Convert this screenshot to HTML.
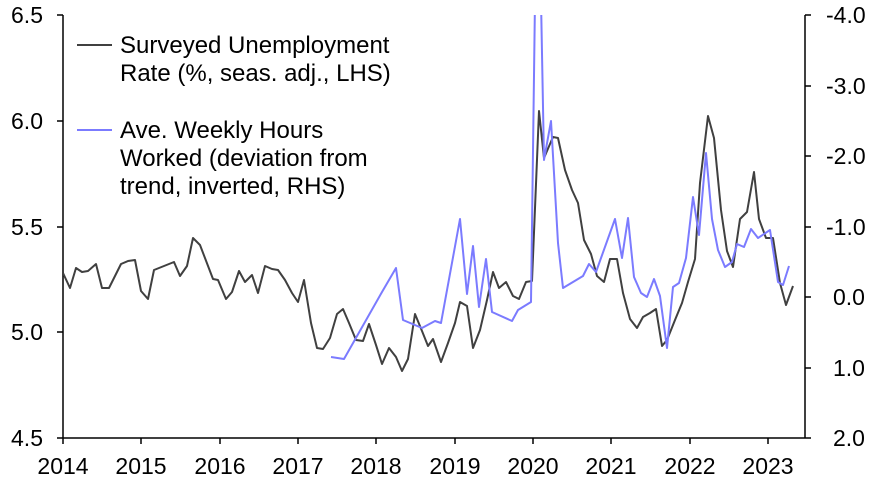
<!DOCTYPE html>
<html><head><meta charset="utf-8"><style>
body{margin:0;background:#fff;}
svg{display:block;font-family:"Liberation Sans",Arial,sans-serif;}
</style></head><body>
<svg width="874" height="482" viewBox="0 0 874 482">
<defs><clipPath id="c"><rect x="63" y="15" width="742" height="423"/></clipPath></defs>
<g stroke="#000" stroke-width="1.5" fill="none">
<line x1="63" y1="15" x2="63" y2="438"/>
<line x1="805" y1="15" x2="805" y2="438"/>
<line x1="63" y1="438" x2="805" y2="438"/>
<path d="M57 15H63M57 121H63M57 227H63M57 332H63M57 438H63"/>
<path d="M805 15H811M805 86H811M805 156H811M805 227H811M805 297H811M805 368H811M805 438H811"/>
<path d="M63 438V444M141 438V444M220 438V444M298 438V444M376 438V444M455 438V444M533 438V444M611 438V444M690 438V444M768 438V444"/>
</g>
<g font-size="23" fill="#000">
<text x="43" y="23" text-anchor="end">6.5</text>
<text x="43" y="129" text-anchor="end">6.0</text>
<text x="43" y="235" text-anchor="end">5.5</text>
<text x="43" y="340" text-anchor="end">5.0</text>
<text x="43" y="446" text-anchor="end">4.5</text>
<text x="826" y="23">-4.0</text>
<text x="826" y="94">-3.0</text>
<text x="826" y="164">-2.0</text>
<text x="826" y="235">-1.0</text>
<text x="833" y="305">0.0</text>
<text x="833" y="376">1.0</text>
<text x="833" y="446">2.0</text>
<g text-anchor="middle">
<text x="63" y="474">2014</text><text x="141" y="474">2015</text><text x="220" y="474">2016</text><text x="298" y="474">2017</text><text x="376" y="474">2018</text><text x="455" y="474">2019</text><text x="533" y="474">2020</text><text x="611" y="474">2021</text><text x="690" y="474">2022</text><text x="768" y="474">2023</text>
</g>
</g>
<g font-size="24" fill="#000">
<text x="120" y="53">Surveyed Unemployment</text>
<text x="120" y="81">Rate (%, seas. adj., LHS)</text>
<text x="120" y="138">Ave. Weekly Hours</text>
<text x="120" y="166">Worked (deviation from</text>
<text x="120" y="194">trend, inverted, RHS)</text>
</g>
<line x1="77" y1="45" x2="112" y2="45" stroke="#404040" stroke-width="2"/>
<line x1="77" y1="130" x2="112" y2="130" stroke="#7b7bff" stroke-width="2"/>
<g clip-path="url(#c)" fill="none" stroke-width="2" stroke-linejoin="round">
<polyline stroke="#404040" points="63,273 70,288 76,268 82,272 88,271 96,264 102,288 109,288 121,264 128,261 135,260 141,291 148,299 154,270 174,262 180,276 187,266 193,238 200,245 213,279 218,280 226,299 232,292 239,271 245,282 252,275 258,293 265,266 272,269 278,270 285,280 292,293 298,302 304,280 311,323 317,348 323,349 330,338 337,314 343,309 349,323 356,340 363,341 369,324 376,345 382,364 389,348 396,357 402,371 408,359 415,314 422,331 428,346 433,339 441,362 448,343 455,323 460,302 467,306 473,348 480,330 487,300 493,272 499,288 506,282 513,296 519,299 526,282 532,281 539,111 544,158 553,137 558,138 565,170 572,190 578,203 584,240 591,254 597,276 604,282 610,259 617,259 623,293 630,319 637,328 643,317 650,313 656,309 662,346 667,340 675,320 682,303 688,282 695,259 700,183 708,116 714,138 721,210 727,251 733,267 740,219 747,212 754,172 759,219 766,238 773,238 780,283 786,305 793,286"/>
<polyline stroke="#7b7bff" points="331,357 344,359 382,292 396,268 403,320 422,328 435,321 441,323 460,219 467,294 473,246 479,307 486,259 492,312 512,321 518,310 531,302 535,0 541,0 544,160 551,121 558,243 563,288 583,276 589,264 596,272 615,219 622,258 628,218 634,277 641,293 647,297 654,279 660,296 667,348 673,287 679,283 686,258 693,197 699,235 706,153 712,219 718,250 725,267 732,262 737,244 744,247 751,229 758,238 770,230 778,282 783,285 789,266"/>
</g>
</svg>
</body></html>
